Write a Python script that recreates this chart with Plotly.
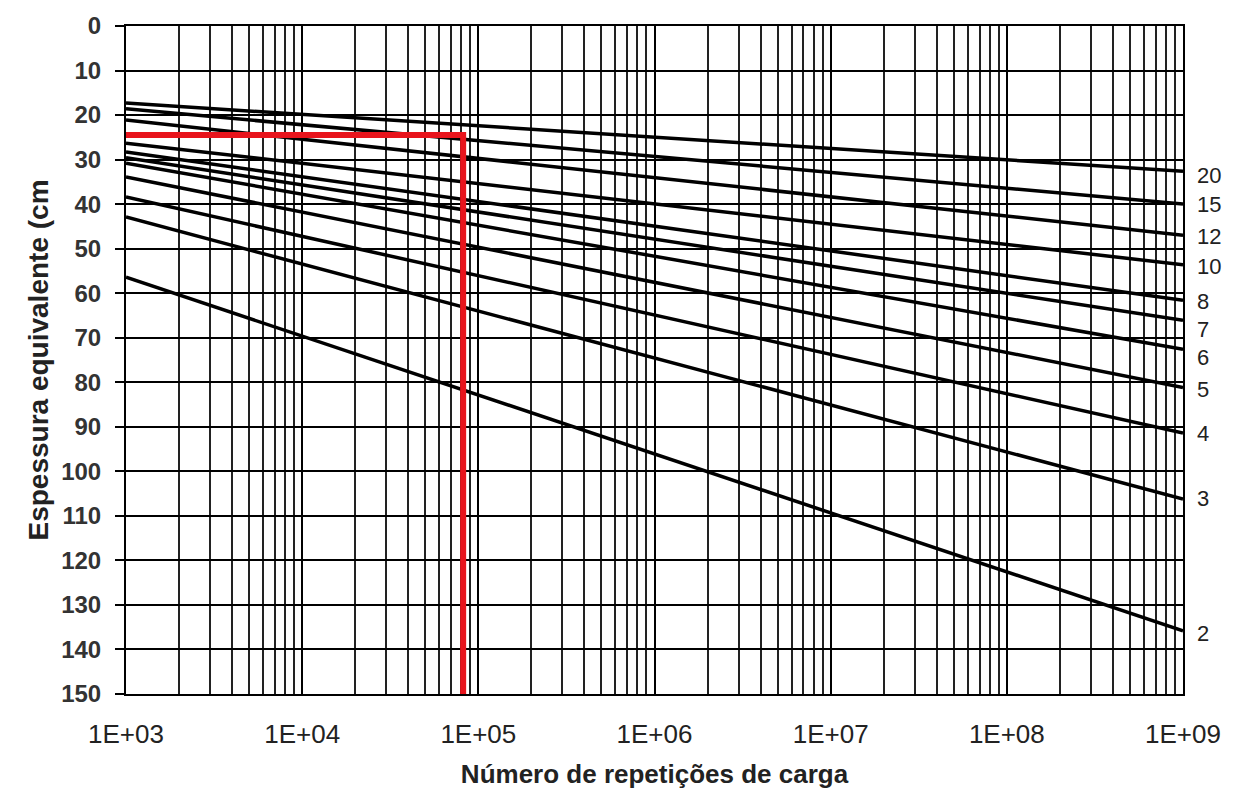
import plotly.graph_objects as go

# curvas por valor de CBR: espessura no inicio (N=1E+03) e no fim (N=1E+09)
cbr_labels = ['20', '15', '12', '10', '8', '7', '6', '5', '4', '3', '2']
n_ends = [1e3, 1e9]
h_start = [17.3, 18.6, 21.1, 26.3, 28.3, 29.6, 30.8, 33.9, 38.4, 42.9, 56.4]
h_end = [32.6, 40.0, 47.0, 53.6, 61.6, 66.1, 72.6, 81.2, 91.4, 106.2, 135.8]
label_shift = [-4, 0, -1, -2, -1, -9, -8, -2, 0, 0, -3]

# exemplo em vermelho
n_red = [1e3, 8.2e4, 8.2e4]
h_red = [24.5, 24.5, 150]

x_ticks = [1e3, 1e4, 1e5, 1e6, 1e7, 1e8, 1e9]
x_ticktext = ['1E+03', '1E+04', '1E+05', '1E+06', '1E+07', '1E+08', '1E+09']
x_minor = [m * 10 ** k for k in range(3, 9) for m in range(2, 10)]

fig = go.Figure()

for lab, h0, h1 in zip(cbr_labels, h_start, h_end):
    fig.add_trace(go.Scatter(
        x=n_ends, y=[h0, h1], mode='lines',
        line=dict(color='black', width=3.5),
        showlegend=False, hoverinfo='skip'
    ))

fig.add_trace(go.Scatter(
    x=n_red, y=h_red, mode='lines',
    line=dict(color='#e8141c', width=6),
    showlegend=False, hoverinfo='skip'
))

for lab, h1, dy in zip(cbr_labels, h_end, label_shift):
    fig.add_annotation(
        x=9, y=h1, xref='x', yref='y', text=lab, showarrow=False,
        xanchor='left', xshift=12, yshift=dy,
        font=dict(family='Liberation Sans, Arial', size=22, color='#222')
    )

# a pagina tem 8px de margem no body, por isso a figura e um pouco menor
fig.update_layout(
    width=1223,
    height=781,
    margin=dict(l=118, r=48, t=18, b=95),
    plot_bgcolor='white',
    paper_bgcolor='white',
    xaxis=dict(
        type='log',
        range=[3, 9],
        automargin=False,
        tickvals=x_ticks,
        ticktext=x_ticktext,
        tickfont=dict(family='Liberation Sans, Arial', size=26, color='#222'),
        ticklabelstandoff=16,
        showgrid=True, gridcolor='black', gridwidth=2,
        minor=dict(tickvals=x_minor, showgrid=True, gridcolor='#222', gridwidth=1.6),
        showline=True, linecolor='black', linewidth=2, mirror=True,
        ticks='', ticklen=0,
        title=dict(text='<b>Número de repetições de carga</b>', standoff=21,
                   font=dict(family='Liberation Sans, Arial', size=26, color='#222')),
        zeroline=False
    ),
    yaxis=dict(
        range=[150, 0],
        dtick=10,
        automargin=False,
        tickfont=dict(family='Liberation Sans, Arial', size=24, color='#333', weight='bold'),
        ticklabelstandoff=9,
        showgrid=True, gridcolor='black', gridwidth=2,
        showline=True, linecolor='black', linewidth=2, mirror=True,
        ticks='outside', ticklen=9, tickcolor='black', tickwidth=2,
        title=dict(text='<b>Espessura equivalente (cm</b>', standoff=4,
                   font=dict(family='Liberation Sans, Arial', size=28, color='#222')),
        zeroline=False
    )
)

fig.write_html("out.html")
